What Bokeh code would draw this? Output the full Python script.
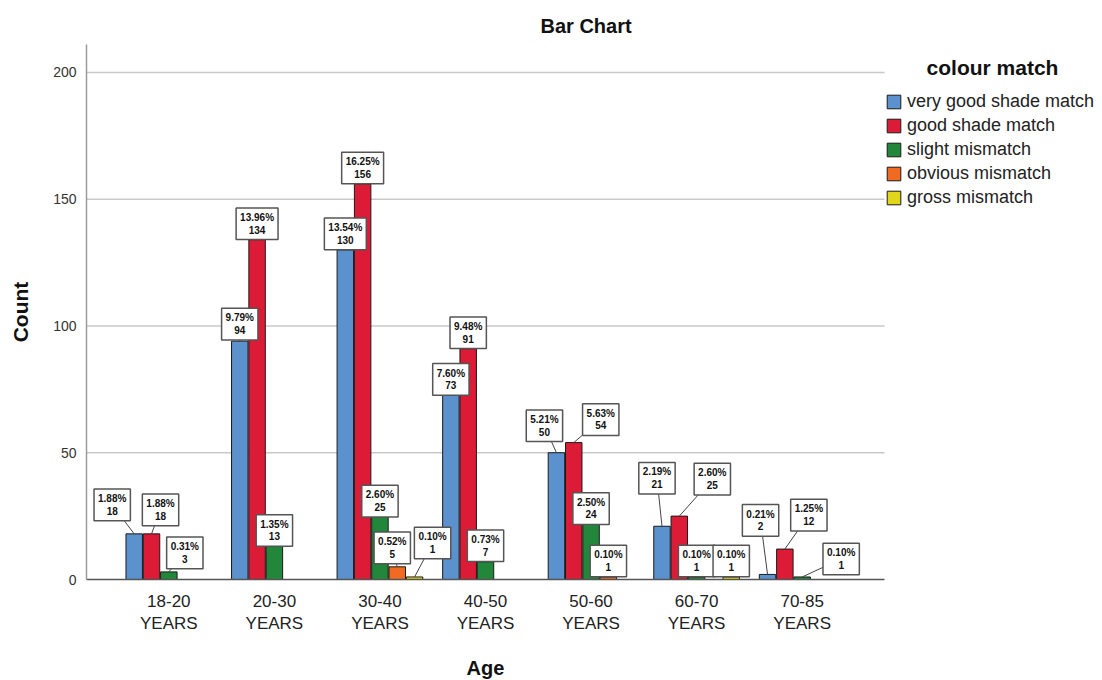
from bokeh.plotting import figure
from bokeh.models import Range1d, FixedTicker, Legend, LegendItem, Title, Label
from bokeh.core.properties import value
from bokeh.embed import file_html
from bokeh.resources import INLINE

# ---------------- data ----------------
ages = ["18-20\nYEARS", "20-30\nYEARS", "30-40\nYEARS", "40-50\nYEARS",
        "50-60\nYEARS", "60-70\nYEARS", "70-85\nYEARS"]
series = ["very good shade match", "good shade match", "slight mismatch",
          "obvious mismatch", "gross mismatch"]
very_good = [18, 94, 130, 73, 50, 21, 2]
good = [18, 134, 156, 91, 54, 25, 12]
slight = [3, 13, 25, 7, 24, 1, 1]
obvious = [0, 0, 5, 0, 1, 0, 0]
gross = [0, 0, 1, 0, 0, 1, 0]
very_good_pct = ["1.88%", "9.79%", "13.54%", "7.60%", "5.21%", "2.19%", "0.21%"]
good_pct = ["1.88%", "13.96%", "16.25%", "9.48%", "5.63%", "2.60%", "1.25%"]
slight_pct = ["0.31%", "1.35%", "2.60%", "0.73%", "2.50%", "0.10%", "0.10%"]
obvious_pct = ["", "", "0.52%", "", "0.10%", "", ""]
gross_pct = ["", "", "0.10%", "", "", "0.10%", ""]
y_ticks = [0, 50, 100, 150, 200]

# ---------------- layout / style ----------------
colors = ["#5b91cd", "#dc1c36", "#22873b", "#f16a22", "#e2d61b"]
# label box offsets (pixels: right, up) from the top centre of each bar
very_good_off = [(-22, 29), (0, 17), (0, 16), (0, 15), (-12, 27), (-5, 48), (-7, 54)]
good_off = [(9, 24), (0, 16), (0, 16), (0, 16), (27, 23), (33, 37), (24, 34)]
slight_off = [(16, 19), (0, 16), (0, 15), (0, 16), (0, 10), (0, 16), (39, 18)]
obvious_off = [None, None, (-5, 19), None, (0, 16), None, None]
gross_off = [None, None, (18, 34), None, None, (0, 16), None]

FONT = "Liberation Sans"
W, H = 1102, 680
ML, MT, MB = 86, 44, 101
AXIS_RIGHT_PX = 884          # where the category axis / grid end
X0, X_AXIS_END = -0.28, 7.28
Y0, Y1 = 0, 211
SLOT = 0.164
BAR_W = 0.156

px_x = (AXIS_RIGHT_PX - ML) / (X_AXIS_END - X0)
X_END = X0 + (W - ML) / px_x
px_y = (H - MT - MB) / (Y1 - Y0)

p = figure(width=W, height=H, x_range=Range1d(X0, X_END), y_range=Range1d(Y0, Y1),
           output_backend="svg", toolbar_location=None,
           min_border_left=ML, min_border_right=0, min_border_top=MT, min_border_bottom=MB)
p.outline_line_color = None
p.background_fill_color = "white"

p.title = Title(text="Bar Chart", align="left", offset=454, standoff=16,
                text_font=FONT, text_font_size="20px", text_font_style="bold",
                text_color="#111111")

# grid lines (only across the category area)
grid_vals = [t for t in y_ticks if t > 0]
p.segment(x0=[X0] * len(grid_vals), x1=[X_AXIS_END] * len(grid_vals), y0=grid_vals, y1=grid_vals,
          line_color="#c8c8c8", line_width=1.5)

counts_all = [very_good, good, slight, obvious, gross]
pct_all = [very_good_pct, good_pct, slight_pct, obvious_pct, gross_pct]
off_all = [very_good_off, good_off, slight_off, obvious_off, gross_off]

renderers = []
lab_x, lab_y, lab_t, seg_x0, seg_y0, seg_x1, seg_y1 = [], [], [], [], [], [], []
for s, name in enumerate(series):
    xs, tops = [], []
    for i, v in enumerate(counts_all[s]):
        if v <= 0:
            continue
        bx = i + 0.5 + (s - 2) * SLOT
        xs.append(bx)
        tops.append(v)
        dx, dy = off_all[s][i]
        lx = bx + dx / px_x
        ly = v + dy / px_y
        lab_x.append(lx)
        lab_y.append(ly)
        lab_t.append(f"{pct_all[s][i]}\n{v}")
        seg_x0.append(bx)
        seg_y0.append(v)
        seg_x1.append(lx)
        seg_y1.append(ly)
    r = p.vbar(x=xs, top=tops, bottom=0, width=BAR_W, fill_color=colors[s],
               line_color="#1a1a1a", line_width=1)
    renderers.append(r)

p.segment(x0=seg_x0, y0=seg_y0, x1=seg_x1, y1=seg_y1, line_color="#444444", line_width=1)
p.text(x=lab_x, y=lab_y, text=lab_t, text_font=value(FONT), text_font_size="10px",
       text_font_style="bold", text_align="center", text_baseline="middle",
       text_line_height=1.15, text_color="#111111",
       background_fill_color="white", border_line_color="#555555", border_line_width=1.5,
       padding=4)

# axes
p.xaxis.ticker = FixedTicker(ticks=[i + 0.5 for i in range(len(ages))])
p.xaxis.major_label_overrides = {i + 0.5: a for i, a in enumerate(ages)}
p.xaxis.bounds = (X0, X_AXIS_END)
p.yaxis.ticker = FixedTicker(ticks=y_ticks)
p.yaxis.axis_label = "Count"
for ax in (p.xaxis[0], p.yaxis[0]):
    ax.major_tick_out = 0
    ax.major_tick_in = 0
    ax.minor_tick_out = 0
    ax.minor_tick_in = 0
    ax.axis_label_text_font = FONT
    ax.axis_label_text_font_style = "bold"
    ax.axis_label_text_color = "#111111"
    ax.major_label_text_font = FONT
p.xaxis.axis_line_color = "#555555"
p.xaxis.axis_line_width = 1.5
p.xaxis.major_label_text_font_size = "17px"
p.xaxis.major_label_text_color = "#222222"
p.xaxis.major_label_standoff = 12
p.yaxis.axis_line_color = "#9a9a9a"
p.yaxis.axis_line_width = 1.5
p.yaxis.major_label_text_font_size = "14px"
p.yaxis.major_label_text_color = "#333333"
p.yaxis.major_label_standoff = 10
p.yaxis.axis_label_text_font_size = "21px"
p.yaxis.axis_label_standoff = 18

p.xgrid.visible = False
p.ygrid.visible = False

# x-axis title, centred under the category area (below the tick labels)
p.add_layout(Title(text=" ", text_font_size="2px", text_color="white", standoff=13), "below")
p.add_layout(Title(text="Age", align="left", offset=380, standoff=2,
                   text_font=FONT, text_font_size="20px", text_font_style="bold",
                   text_color="#111111"), "below")

# legend
legend = Legend(items=[LegendItem(label=n, renderers=[r]) for n, r in zip(series, renderers)],
                location=(AXIS_RIGHT_PX - ML + 1, 371), orientation="vertical",
                glyph_width=17, glyph_height=17, label_height=17, label_standoff=5,
                spacing=3, padding=0, margin=0,
                label_text_font=FONT, label_text_font_size="18px", label_text_color="#222222",
                border_line_color=None, background_fill_alpha=0)
p.add_layout(legend)
p.add_layout(Label(x=906, y=512, x_units="screen", y_units="screen", text="colour match",
                   text_font=FONT, text_font_size="21px", text_font_style="bold",
                   text_align="center", text_baseline="middle", text_color="#111111"))

open("out.html", "w").write(file_html(p, INLINE))
